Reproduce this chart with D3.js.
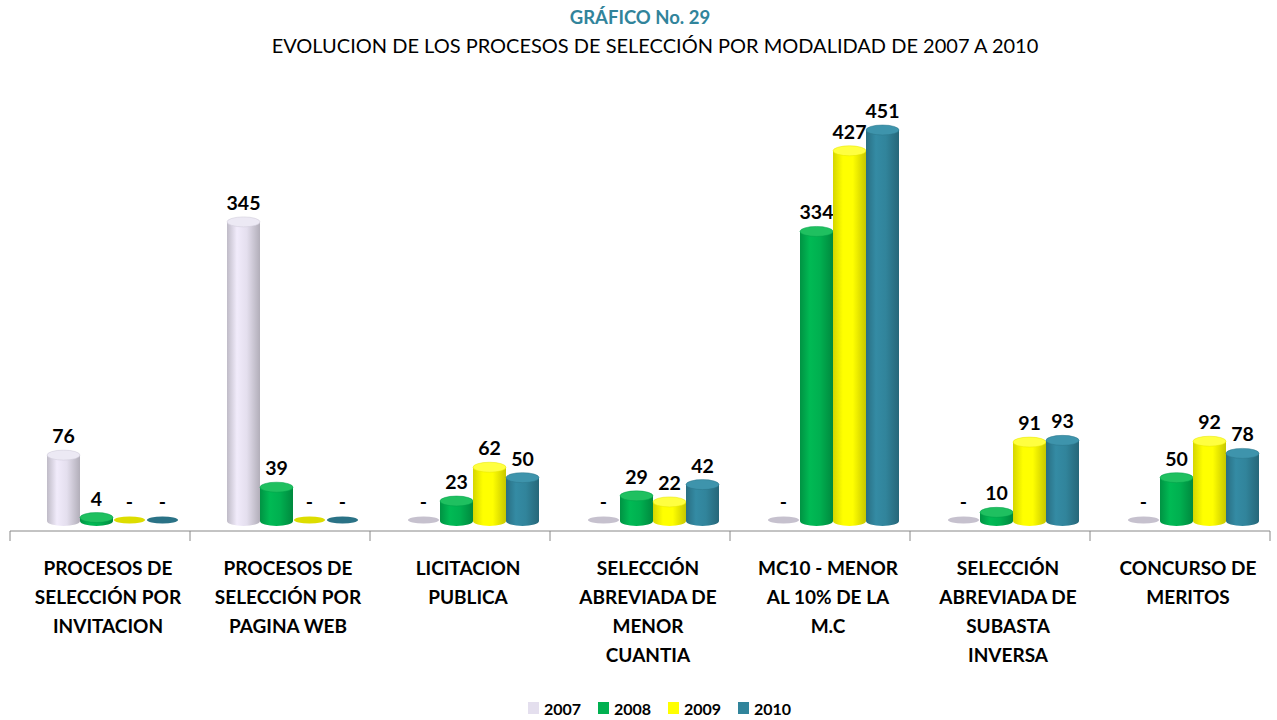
<!DOCTYPE html>
<html lang="en">
<head>
<meta charset="UTF-8">
<title>Grafico 29</title>
<style>
  body { margin: 0; background: #fff; }
  svg { font-family: Lato, "Open Sans", sans-serif; }
  .lbl { font-weight: bold; font-size: 19.5px; fill: #000; }
  .cat { font-weight: bold; font-size: 19px; fill: #000; }
</style>
<script src="https://d3js.org/d3.v7.min.js"></script>
</head>
<body>
<svg id="chart" width="1277" height="720"></svg>
<script>
// data
var categories = [
  ["PROCESOS DE", "SELECCIÓN POR", "INVITACION"],
  ["PROCESOS DE", "SELECCIÓN POR", "PAGINA WEB"],
  ["LICITACION", "PUBLICA"],
  ["SELECCIÓN", "ABREVIADA DE", "MENOR", "CUANTIA"],
  ["MC10 - MENOR", "AL 10% DE LA", "M.C"],
  ["SELECCIÓN", "ABREVIADA DE", "SUBASTA", "INVERSA"],
  ["CONCURSO DE", "MERITOS"]
];
var years = ["2007", "2008", "2009", "2010"];
var v2007 = [76, 345, 0, 0, 0, 0, 0];
var v2008 = [4, 39, 23, 29, 334, 10, 50];
var v2009 = [0, 0, 62, 22, 427, 91, 92];
var v2010 = [0, 0, 50, 42, 451, 93, 78];
var series = [v2007, v2008, v2009, v2010];
var colors = ["#e4dfee", "#00b050", "#ffff00", "#31849b"];
var topColors = ["#ece9f4", "#1fc060", "#ffff40", "#3e94ac"];

var svg = d3.select("#chart");
var baseY = 521, axisY = 531;

var x0 = d3.scaleBand().domain(d3.range(categories.length)).range([10, 1270]);
var x1 = d3.scaleBand().domain(years).range([0, 132]);
var y = d3.scaleLinear().domain([0, 451]).range([baseY, 130]);

// gradients for cylinders
var defs = svg.append("defs");
colors.forEach(function (c, i) {
  var g = defs.append("linearGradient").attr("id", "g" + i)
    .attr("x1", "0%").attr("x2", "100%").attr("y1", "0%").attr("y2", "0%");
  var base = d3.color(c);
  g.append("stop").attr("offset", "0%").attr("stop-color", base.darker(0.5));
  g.append("stop").attr("offset", "30%").attr("stop-color", base.brighter(0.15));
  g.append("stop").attr("offset", "60%").attr("stop-color", base);
  g.append("stop").attr("offset", "100%").attr("stop-color", base.darker(0.7));
});

// titles
svg.append("text").attr("x", 640).attr("y", 24).attr("text-anchor", "middle")
  .style("font-weight", "bold").style("font-size", "18.5px").style("fill", "#31849b")
  .text("GRÁFICO No. 29");
svg.append("text").attr("x", 655).attr("y", 53).attr("text-anchor", "middle")
  .style("font-size", "20px").style("fill", "#000")
  .text("EVOLUCION DE LOS PROCESOS DE SELECCIÓN POR MODALIDAD DE 2007 A 2010");

// axis
svg.append("line").attr("x1", 10).attr("x2", 1270).attr("y1", axisY).attr("y2", axisY)
  .attr("stroke", "#888").attr("stroke-width", 1);
d3.range(categories.length + 1).forEach(function (i) {
  var xx = 10 + i * x0.bandwidth();
  svg.append("line").attr("x1", xx).attr("x2", xx).attr("y1", axisY).attr("y2", axisY + 10)
    .attr("stroke", "#888");
});

var rx = x1.bandwidth() / 2, ry = 5;

categories.forEach(function (cat, ci) {
  var gx = x0(ci) + 37;
  series.forEach(function (s, si) {
    var v = s[ci];
    var cx = gx + x1(years[si]) + rx;
    var top = y(v);
    var g = svg.append("g");
    if (v > 0) {
      g.append("path")
        .attr("d", "M" + (cx - rx) + "," + top + " L" + (cx - rx) + "," + baseY +
          " A" + rx + "," + ry + " 0 0 0 " + (cx + rx) + "," + baseY +
          " L" + (cx + rx) + "," + top + " Z")
        .attr("fill", "url(#g" + si + ")");
      g.append("ellipse").attr("cx", cx).attr("cy", top).attr("rx", rx).attr("ry", ry)
        .attr("fill", topColors[si]).attr("stroke", d3.color(colors[si]).darker(0.3)).attr("stroke-width", 0.5);
    } else {
      g.append("ellipse").attr("cx", cx).attr("cy", baseY - 1).attr("rx", rx - 1).attr("ry", 3.5)
        .attr("fill", d3.color(colors[si]).darker(0.4));
    }
    svg.append("text").attr("class", "lbl").attr("x", cx).attr("text-anchor", "middle")
      .attr("y", v > 0 ? top - 12 : baseY - 12)
      .text(v > 0 ? v : "-");
  });

  var t = svg.append("text").attr("class", "cat").attr("text-anchor", "middle");
  cat.forEach(function (line, li) {
    t.append("tspan").attr("x", x0(ci) + x0.bandwidth() / 2 + 8).attr("y", 575 + li * 29).text(line);
  });
});

// legend
var legX = [528, 598, 668, 738];
years.forEach(function (yr, i) {
  svg.append("rect").attr("x", legX[i]).attr("y", 702).attr("width", 11).attr("height", 12)
    .attr("fill", colors[i]);
  svg.append("text").attr("x", legX[i] + 16).attr("y", 715)
    .style("font-weight", "bold").style("font-size", "16px").text(yr);
});
</script>
</body>
</html>
